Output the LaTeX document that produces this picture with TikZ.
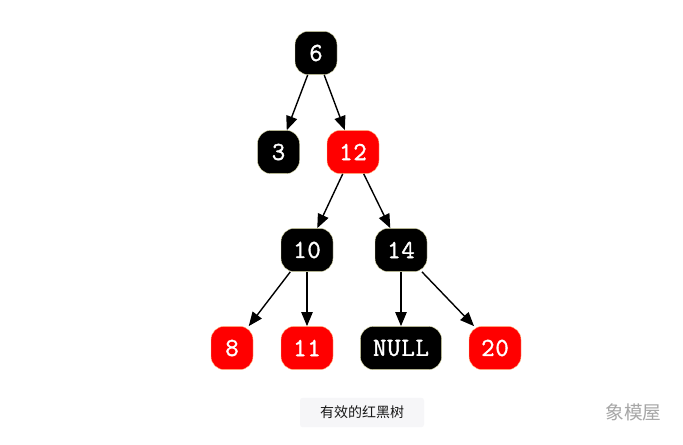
\documentclass[tikz,border=0pt]{standalone}
\usepackage{fontspec}
\newfontfamily\cjkfont{Noto Sans CJK SC}
\newfontfamily\nodefont[FakeBold=1.4,LetterSpace=3]{Latin Modern Mono}
\usetikzlibrary{arrows.meta}
\definecolor{capbg}{HTML}{F6F6F8}
\definecolor{rededge}{HTML}{FFC890}
\definecolor{blackedge}{HTML}{E4E4B0}
\tikzset{
  treenode/.style={rounded corners=10pt,minimum height=32.5pt,inner sep=0pt,text=white,
    font=\nodefont\fontsize{19.5}{19.5}\selectfont,line width=0.3pt},
  blacknode/.style={treenode,draw=blackedge,fill=black},
  rednode/.style={treenode,draw=rededge,fill=red},
  onedigit/.style={minimum width=31.5pt},
  twodigit/.style={minimum width=39pt},
  edge/.style={-{Triangle[length=10.5pt,width=8.5pt]},line width=1.05pt,black},
  caption/.style={fill=capbg,rounded corners=2pt,minimum width=93pt,minimum height=22pt,inner sep=0pt,
    font=\cjkfont\fontsize{10.5}{10.5}\selectfont,text=black!90},
  watermark/.style={font=\cjkfont\fontsize{14}{14}\selectfont,text=black!35,inner sep=0pt}
}
\begin{document}
\begin{tikzpicture}[x=0.75pt,y=-0.75pt]
\useasboundingbox (0,0) rectangle (683,444);
\fill[white] (0,0) rectangle (683,444);
\node[blacknode,onedigit] (n6) at (316,53) {6};
\node[blacknode,onedigit] (n3) at (278.5,152) {3};
\node[rednode,twodigit] (n12) at (353,152) {12};
\node[blacknode,twodigit] (n10) at (307,250) {10};
\node[blacknode,twodigit] (n14) at (401,250) {14};
\node[rednode,onedigit] (n8) at (232,348) {8};
\node[rednode,twodigit] (n11) at (307,348) {11};
\node[blacknode,minimum width=61pt] (nnull) at (401,348) {NULL};
\node[rednode,twodigit] (n20) at (495,348) {20};
\draw[edge] (n6) -- (n3);
\draw[edge] (n6) -- (n12);
\draw[edge] (n12) -- (n10);
\draw[edge] (n12) -- (n14);
\draw[edge] (n10) -- (n8);
\draw[edge] (n10) -- (n11);
\draw[edge] (n14) -- (nnull);
\draw[edge] (n14) -- (n20);
\node[caption] (cap) at (362,412.5) {有效的红黑树};
\node[watermark] (wm) at (633.5,412) {象模屋};
\end{tikzpicture}
\end{document}
